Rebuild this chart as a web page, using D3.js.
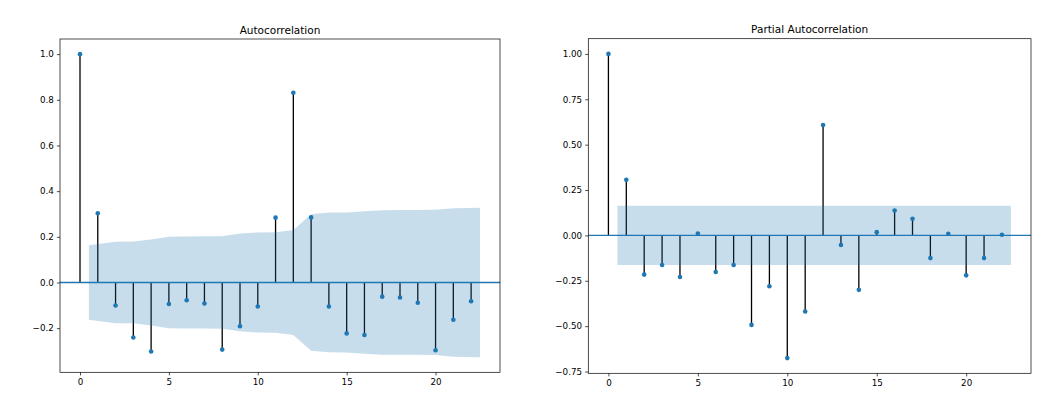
<!DOCTYPE html>
<html>
<head>
<meta charset="utf-8">
<script src="https://cdn.jsdelivr.net/npm/d3@7"></script>
<style>
  html, body { margin: 0; padding: 0; background: #fff; }
  svg { display: block; }
  text { font-family: "DejaVu Sans", sans-serif; fill: #000; }
</style>
</head>
<body>
<div id="chart"></div>
<script>
// ---- data ----
const lags = d3.range(0, 23);
const acfValues = [1.0, 0.303, -0.101, -0.241, -0.302, -0.094, -0.078, -0.092, -0.294, -0.192, -0.105,
  0.284, 0.831, 0.285, -0.105, -0.223, -0.230, -0.062, -0.066, -0.089, -0.297, -0.163, -0.082];
// confidence band half-width for lags 1..22
const acfBand = [0.163, 0.178, 0.179, 0.188, 0.200, 0.201, 0.202, 0.203, 0.214, 0.219, 0.220,
  0.230, 0.299, 0.306, 0.307, 0.312, 0.316, 0.317, 0.317, 0.318, 0.325, 0.327];
const pacfValues = [1.0, 0.306, -0.216, -0.163, -0.229, 0.010, -0.202, -0.163, -0.493, -0.280, -0.676,
  -0.419, 0.608, -0.053, -0.300, 0.018, 0.137, 0.092, -0.125, 0.009, -0.220, -0.125, 0.004];
const pacfBand = [0.163, 0.163, 0.163, 0.163, 0.163, 0.163, 0.163, 0.163, 0.163, 0.163, 0.163,
  0.163, 0.163, 0.163, 0.163, 0.163, 0.163, 0.163, 0.163, 0.163, 0.163, 0.163];
const xTicks = [0, 5, 10, 15, 20];
const acfYTicks = [-0.2, 0.0, 0.2, 0.4, 0.6, 0.8, 1.0];
const pacfYTicks = [-0.75, -0.50, -0.25, 0.00, 0.25, 0.50, 0.75, 1.00];
const titles = ["Autocorrelation", "Partial Autocorrelation"];

// ---- drawing ----
const W = 1056, H = 396;
const blue = "#1f77b4";
const svg = d3.select("#chart").append("svg").attr("width", W).attr("height", H);

function fmtMinus(s) { return s.replace("-", "\u2212"); }

function panel(cfg) {
  const { left, right, top, bottom, values, band, yTicks, yFmt, title } = cfg;
  // band x positions: lags 1..22, first shifted -0.5, last +0.5 (statsmodels style)
  const bandPts = band.map((b, i) => {
    let x = i + 1;
    if (i === 0) x -= 0.5;
    if (i === band.length - 1) x += 0.5;
    return { x, b };
  });
  const xMin = 0, xMax = d3.max(bandPts, d => d.x);
  const xm = (xMax - xMin) * 0.05;
  const yLo = Math.min(d3.min(values), d3.min(band, b => -b));
  const yHi = Math.max(d3.max(values), d3.max(band));
  const ym = (yHi - yLo) * 0.05;
  const x = d3.scaleLinear().domain([xMin - xm, xMax + xm]).range([left, right]);
  const y = d3.scaleLinear().domain([yLo - ym, yHi + ym]).range([bottom, top]);

  const g = svg.append("g");
  const clipId = "clip" + left;
  g.append("clipPath").attr("id", clipId).append("rect")
    .attr("x", left).attr("y", top).attr("width", right - left).attr("height", bottom - top);
  const plot = g.append("g").attr("clip-path", `url(#${clipId})`);

  // stems
  plot.selectAll("line.stem").data(values).join("line")
    .attr("class", "stem")
    .attr("x1", (d, i) => x(lags[i])).attr("x2", (d, i) => x(lags[i]))
    .attr("y1", y(0)).attr("y2", d => y(d))
    .attr("stroke", "#000").attr("stroke-width", 1.3);
  // zero line
  plot.append("line").attr("x1", left).attr("x2", right)
    .attr("y1", y(0)).attr("y2", y(0))
    .attr("stroke", blue).attr("stroke-width", 1.3);
  // markers
  plot.selectAll("circle").data(values).join("circle")
    .attr("cx", (d, i) => x(lags[i])).attr("cy", d => y(d))
    .attr("r", 2.3).attr("fill", blue);
  // confidence band
  const area = d3.area().x(d => x(d.x)).y0(d => y(-d.b)).y1(d => y(d.b));
  plot.append("path").datum(bandPts).attr("d", area)
    .attr("fill", blue).attr("fill-opacity", 0.25).attr("stroke", "none");

  // axes
  const xAxis = d3.axisBottom(x).tickValues(xTicks).tickSize(3.1).tickPadding(3.1)
    .tickFormat(d3.format("d"));
  const yAxis = d3.axisLeft(y).tickValues(yTicks).tickSize(3.1).tickPadding(3.1)
    .tickFormat(d => fmtMinus(yFmt(d)));
  const gx = g.append("g").attr("transform", `translate(0,${bottom})`).call(xAxis);
  const gy = g.append("g").attr("transform", `translate(${left},0)`).call(yAxis);
  [gx, gy].forEach(a => {
    a.select(".domain").remove();
    a.selectAll(".tick line").attr("stroke", "#000").attr("stroke-width", 0.7);
    a.selectAll(".tick text").attr("font-size", 8.75).attr("font-family", "DejaVu Sans").attr("fill", "#000");
  });
  // spines
  g.append("rect").attr("x", left).attr("y", top).attr("width", right - left).attr("height", bottom - top)
    .attr("fill", "none").attr("stroke", "#000").attr("stroke-width", 0.7);
  // title
  g.append("text").attr("x", (left + right) / 2).attr("y", top - 5.3)
    .attr("text-anchor", "middle").attr("font-size", 10.5).text(title);
}

panel({ left: 60, right: 500, top: 39, bottom: 372.3, values: acfValues, band: acfBand,
  yTicks: acfYTicks, yFmt: d3.format(".1f"), title: titles[0] });
panel({ left: 588.3, right: 1031, top: 38.7, bottom: 373.3, values: pacfValues, band: pacfBand,
  yTicks: pacfYTicks, yFmt: d3.format(".2f"), title: titles[1] });
</script>
</body>
</html>
